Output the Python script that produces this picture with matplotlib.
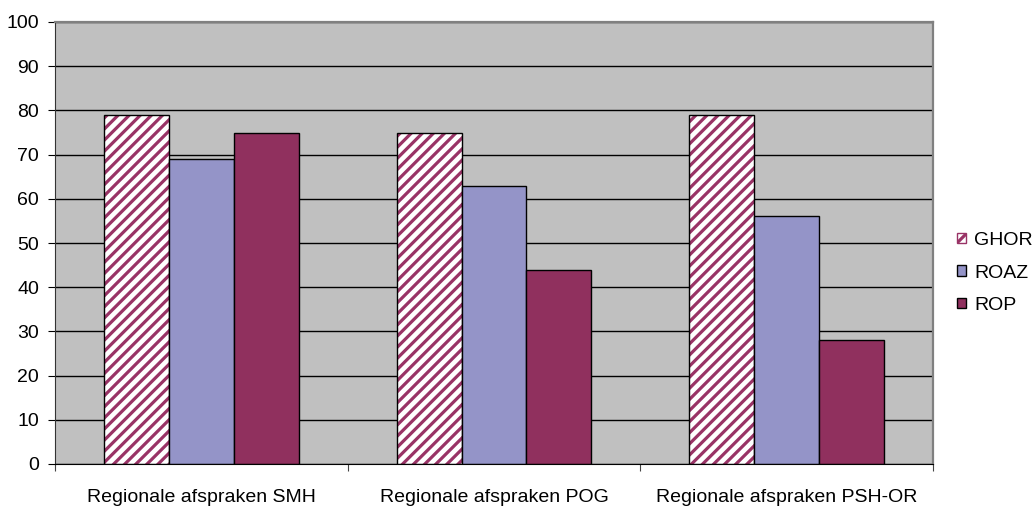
import matplotlib.pyplot as plt
import numpy as np
from matplotlib.patches import Patch

categories = ['Regionale afspraken SMH', 'Regionale afspraken POG', 'Regionale afspraken PSH-OR']
ghor = [79, 75, 79]
roaz = [69, 63, 56]
rop = [75, 44, 28]

plt.rcParams['font.family'] = ['Liberation Sans', 'DejaVu Sans']
plt.rcParams['hatch.linewidth'] = 2.3

fig = plt.figure(figsize=(10.32, 5.25), dpi=100)
ax = fig.add_axes([55 / 1032, 61 / 525, 878 / 1032, 442 / 525])
ax.set_facecolor('#C0C0C0')

x = np.arange(len(categories))
w = 0.222
ax.bar(x - w, ghor, w, color='white', edgecolor='#993366', hatch='///', linewidth=0)
ax.bar(x - w, ghor, w, fill=False, edgecolor='black', linewidth=1)
ax.bar(x, roaz, w, color='#9494C8', edgecolor='black', linewidth=1)
ax.bar(x + w, rop, w, color='#90305E', edgecolor='black', linewidth=1)

ax.set_xlim(-0.5, 2.5)
ax.set_ylim(0, 100)
ax.set_yticks(range(0, 101, 10))
ax.yaxis.grid(True, color='black', linewidth=1)
ax.set_axisbelow(True)
ax.set_xticks([-0.5, 0.5, 1.5, 2.5])
ax.set_xticklabels([])
ax.set_xticks(x, minor=True)
ax.set_xticklabels(categories, minor=True)
ax.tick_params(axis='x', which='minor', length=0, pad=18, labelsize=14)
ax.tick_params(axis='x', which='major', length=5, direction='out', color='#444444')
ax.tick_params(axis='y', length=5, direction='out', pad=6.5, labelsize=14)
for s in ['top', 'right']:
    ax.spines[s].set_color('#808080')
    ax.spines[s].set_linewidth(1.6)
ax.spines['left'].set_color('#333333')
ax.spines['bottom'].set_color('black')

handles = [Patch(facecolor='white', edgecolor='#993366', hatch='///', label='GHOR'),
           Patch(facecolor='#9494C8', edgecolor='black', label='ROAZ'),
           Patch(facecolor='#90305E', edgecolor='black', label='ROP')]
fig.legend(handles=handles, loc='center left', bbox_to_anchor=(957 / 1032, 252 / 525), frameon=False,
           borderpad=0, borderaxespad=0, fontsize=14, handlelength=0.47, handleheight=0.47,
           handletextpad=0.4, labelspacing=0.8)

fig.savefig('out.png', dpi=100)
